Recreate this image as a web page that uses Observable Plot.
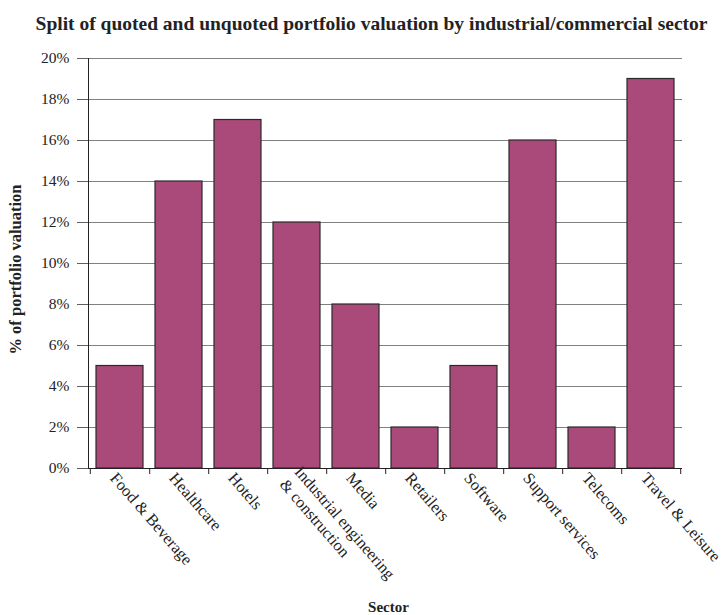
<!DOCTYPE html>
<html>
<head>
<meta charset="utf-8">
<script src="https://cdn.jsdelivr.net/npm/d3@7"></script>
<script src="https://cdn.jsdelivr.net/npm/@observablehq/plot@0.6"></script>
<style>
  body { margin: 0; background: #fff; }
  svg { font-family: "Liberation Serif", "Times New Roman", serif; }
</style>
</head>
<body>
<div id="chart"></div>
<script>
const title = "Split of quoted and unquoted portfolio valuation by industrial/commercial sector";
const yLabel = "% of portfolio valuation";
const xLabel = "Sector";
const sectors = ["Food & Beverage", "Healthcare", "Hotels", "Industrial engineering\n& construction", "Media", "Retailers", "Software", "Support services", "Telecoms", "Travel & Leisure"];
const values = [5, 14, 17, 12, 8, 2, 5, 16, 2, 19];
const yTicks = [0, 2, 4, 6, 8, 10, 12, 14, 16, 18, 20];

const data = sectors.map((s, i) => ({sector: s, value: values[i]}));

const W = 721, H = 615, mL = 88, mR = 39, mT = 58, mB = 147;
const step = (W - mL - mR) / sectors.length;

const chart = Plot.plot({
  width: W, height: H,
  marginLeft: mL, marginRight: mR, marginTop: mT, marginBottom: mB,
  style: {fontFamily: "'Liberation Serif', 'Times New Roman', serif", fontSize: "14px", background: "#fff", overflow: "visible"},
  x: {domain: sectors, padding: 0, label: null},
  y: {domain: [0, 20], label: null},
  marks: [
    Plot.gridY(yTicks, {stroke: "#808080", strokeOpacity: 1, strokeWidth: 1.2}),
    Plot.axisY(yTicks, {tickSize: 11, stroke: "#606060", tickPadding: 8, fontSize: 15.5, fill: "#222", tickFormat: d => d + "%"}),
    Plot.barY(data, {x: "sector", y: "value", fill: "#AA4A7A", stroke: "#2a2a2a", strokeWidth: 1.2, insetLeft: 6, insetRight: 6}),
    Plot.frame({anchor: "left", stroke: "#222"}),
    Plot.ruleY([0], {stroke: "#222"}),
    Plot.axisX(sectors, {tickSize: 6, text: null, dx: step / 2, stroke: "#222"}),
    Plot.axisX([sectors[0]], {tickSize: 6, text: null, dx: -step / 2, stroke: "#222"}),
    Plot.axisX(sectors, {tickSize: 0, tickPadding: 6, tickRotate: 49, dx: -6, lineHeight: 1.2, fontSize: 16.3, fill: "#222", label: null}),
    Plot.text([title], {frameAnchor: "top", lineAnchor: "middle", dy: -35, dx: -14, fontSize: 19.5, fontWeight: "bold", fill: "#222"}),
    Plot.text([yLabel], {frameAnchor: "left", textAnchor: "middle", dx: -73, dy: 6, rotate: -90, fontSize: 16.5, fontWeight: "bold", fill: "#222"}),
    Plot.text([xLabel], {frameAnchor: "bottom", lineAnchor: "middle", dy: 139, dx: 3, fontSize: 15, fontWeight: "bold", fill: "#222"})
  ]
});
document.getElementById("chart").append(chart);
</script>
</body>
</html>
